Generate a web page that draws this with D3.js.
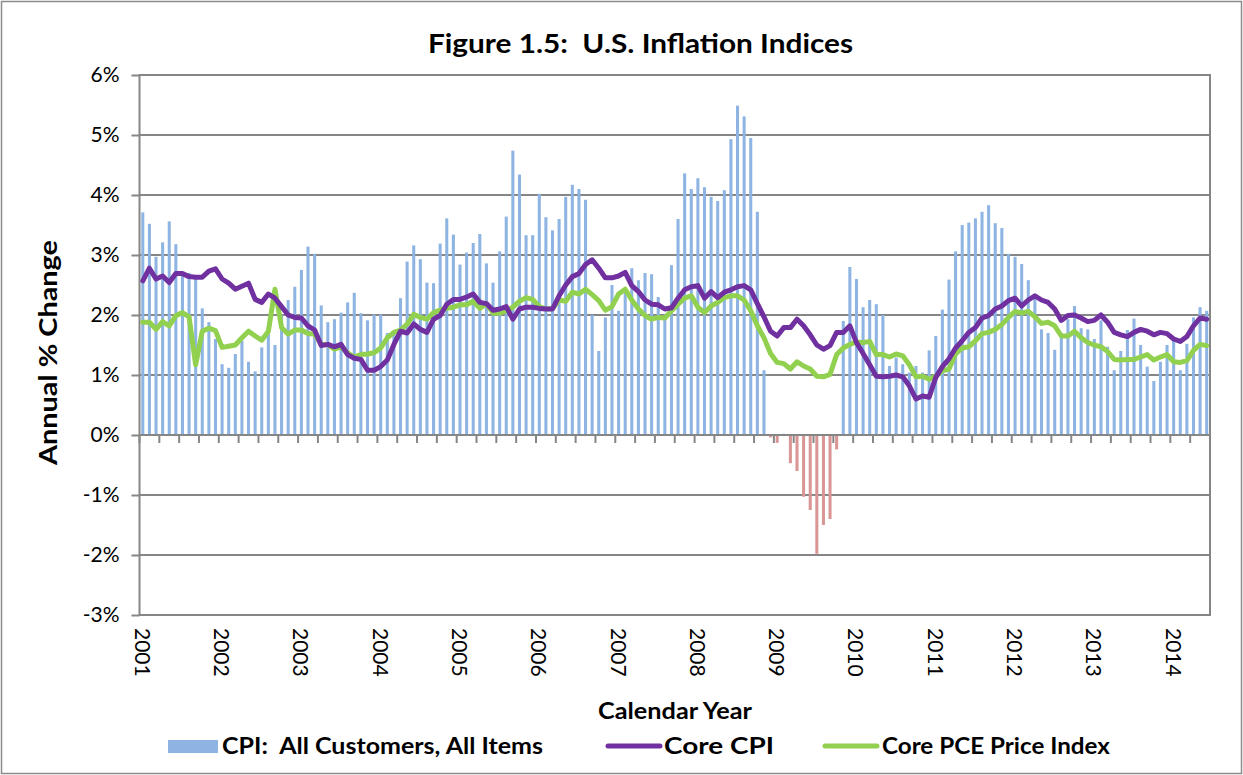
<!DOCTYPE html>
<html>
<head>
<meta charset="utf-8">
<script src="https://cdn.jsdelivr.net/npm/d3@7"></script>
<style>
  html, body { margin: 0; padding: 0; background: #fff; }
  svg { display: block; }
  text { font-family: Lato, "Open Sans", "Liberation Sans", sans-serif; fill: #000; white-space: pre; }
</style>
</head>
<body>
<svg id="chart" width="1243" height="775" xml:space="preserve"></svg>
<script>
// ---------------- DATA (monthly, Jan 2001 - Jun 2014) ----------------
const years = ["2001","2002","2003","2004","2005","2006","2007","2008","2009","2010","2011","2012","2013","2014"];
const monthNames = ["Jan","Feb","Mar","Apr","May","Jun","Jul","Aug","Sep","Oct","Nov","Dec"];
const monthCount = 162;

const cpiAllItems = [
  3.71, 3.52, 2.97, 3.21, 3.56, 3.18, 2.68, 2.70, 2.60, 2.11, 1.88, 1.60,
  1.18, 1.12, 1.35, 1.57, 1.22, 1.06, 1.46, 1.80, 1.50, 2.00, 2.25, 2.47,
  2.75, 3.14, 3.02, 2.16, 1.88, 1.93, 2.04, 2.21, 2.37, 2.03, 1.91, 2.01,
  2.01, 1.70, 1.70, 2.28, 2.89, 3.16, 2.93, 2.54, 2.53, 3.19, 3.61, 3.34,
  2.84, 3.04, 3.20, 3.35, 2.86, 2.54, 3.06, 3.64, 4.74, 4.34, 3.33, 3.33,
  4.02, 3.63, 3.41, 3.60, 3.97, 4.17, 4.10, 3.92, 2.00, 1.40, 1.96, 2.50,
  2.07, 2.40, 2.78, 2.58, 2.70, 2.68, 2.30, 1.97, 2.83, 3.60, 4.36, 4.10,
  4.28, 4.13, 3.97, 3.90, 4.08, 4.93, 5.49, 5.31, 4.95, 3.72, 1.08, -0.04,
  -0.13, 0.02, -0.47, -0.60, -1.03, -1.25, -1.98, -1.50, -1.40, -0.24, 1.90, 2.80,
  2.60, 2.13, 2.25, 2.18, 2.00, 1.15, 1.29, 1.18, 1.04, 1.15, 1.04, 1.41,
  1.65, 2.09, 2.59, 3.06, 3.50, 3.54, 3.61, 3.72, 3.83, 3.53, 3.45, 3.02,
  2.97, 2.85, 2.58, 2.30, 1.76, 1.70, 1.42, 1.70, 1.93, 2.15, 1.78, 1.76,
  1.60, 1.91, 1.47, 1.08, 1.40, 1.75, 1.94, 1.50, 1.14, 0.90, 1.22, 1.50,
  1.58, 1.08, 1.52, 1.96, 2.13, 2.07
];

const coreCPI = [
  2.57, 2.78, 2.60, 2.65, 2.54, 2.69, 2.69, 2.64, 2.63, 2.63, 2.73, 2.77,
  2.60, 2.53, 2.43, 2.48, 2.53, 2.26, 2.21, 2.35, 2.28, 2.14, 2.00, 1.96,
  1.95, 1.82, 1.75, 1.49, 1.51, 1.47, 1.51, 1.34, 1.28, 1.26, 1.08, 1.08,
  1.14, 1.25, 1.51, 1.73, 1.70, 1.85, 1.76, 1.71, 1.93, 1.99, 2.18, 2.26,
  2.26, 2.30, 2.35, 2.21, 2.19, 2.08, 2.10, 2.14, 1.93, 2.10, 2.13, 2.13,
  2.11, 2.10, 2.10, 2.32, 2.50, 2.64, 2.69, 2.84, 2.92, 2.78, 2.62, 2.62,
  2.65, 2.71, 2.49, 2.39, 2.25, 2.18, 2.17, 2.10, 2.12, 2.28, 2.42, 2.47,
  2.49, 2.28, 2.39, 2.29, 2.38, 2.42, 2.47, 2.49, 2.42, 2.19, 1.97, 1.73,
  1.65, 1.79, 1.79, 1.93, 1.82, 1.67, 1.50, 1.43, 1.49, 1.71, 1.71, 1.82,
  1.54, 1.36, 1.17, 0.98, 0.97, 0.98, 1.00, 0.97, 0.82, 0.60, 0.65, 0.63,
  0.96, 1.14, 1.27, 1.45, 1.57, 1.71, 1.79, 1.95, 1.99, 2.10, 2.15, 2.24,
  2.28, 2.15, 2.25, 2.32, 2.25, 2.21, 2.10, 1.91, 1.99, 2.00, 1.95, 1.89,
  1.91, 2.00, 1.88, 1.71, 1.67, 1.64, 1.71, 1.76, 1.73, 1.67, 1.71, 1.69,
  1.60, 1.56, 1.64, 1.82, 1.95, 1.93
];

const corePCE = [
  1.88, 1.88, 1.76, 1.89, 1.82, 1.99, 2.04, 1.97, 1.17, 1.73, 1.78, 1.74,
  1.46, 1.48, 1.50, 1.62, 1.73, 1.65, 1.58, 1.73, 2.43, 1.79, 1.68, 1.75,
  1.75, 1.69, 1.68, 1.51, 1.51, 1.43, 1.47, 1.37, 1.30, 1.34, 1.35, 1.37,
  1.45, 1.62, 1.71, 1.75, 1.85, 2.01, 1.96, 1.93, 2.04, 2.08, 2.11, 2.13,
  2.17, 2.17, 2.23, 2.11, 2.19, 2.03, 2.03, 2.07, 2.13, 2.23, 2.29, 2.26,
  2.14, 2.10, 2.11, 2.25, 2.23, 2.38, 2.35, 2.43, 2.34, 2.24, 2.08, 2.14,
  2.35, 2.43, 2.25, 2.10, 1.99, 1.93, 1.96, 1.95, 2.07, 2.18, 2.28, 2.32,
  2.13, 2.04, 2.15, 2.21, 2.29, 2.32, 2.32, 2.25, 2.07, 1.82, 1.62, 1.36,
  1.21, 1.19, 1.10, 1.22, 1.15, 1.10, 0.98, 0.97, 1.01, 1.34, 1.45, 1.51,
  1.55, 1.54, 1.56, 1.34, 1.34, 1.30, 1.35, 1.32, 1.17, 0.97, 0.98, 0.93,
  0.98, 1.07, 1.10, 1.35, 1.45, 1.47, 1.57, 1.69, 1.71, 1.76, 1.84, 1.96,
  2.06, 2.03, 2.06, 1.97, 1.86, 1.88, 1.82, 1.65, 1.65, 1.73, 1.62, 1.54,
  1.50, 1.47, 1.39, 1.26, 1.25, 1.26, 1.26, 1.30, 1.34, 1.25, 1.30, 1.34,
  1.22, 1.21, 1.24, 1.41, 1.51, 1.49
];

const yTicks = [-3, -2, -1, 0, 1, 2, 3, 4, 5, 6];
const titleText = "Figure 1.5:  U.S. Inflation Indices";
const yAxisTitle = "Annual % Change";
const xAxisTitle = "Calendar Year";
const legendLabels = ["CPI:  All Customers, All Items", "Core CPI", "Core PCE Price Index"];

// ---------------- BUILD ----------------
const categories = d3.range(monthCount).map(i => monthNames[i % 12] + " " + years[Math.floor(i / 12)]);

const colors = { bar: "#8DB4E2", barNeg: "#D99694", core: "#7030A0", pce: "#92D050", grid: "#868686" };

const svg = d3.select("#chart");
const W = 1243, H = 775;
const plot = { left: 139.5, right: 1210, top: 75, bottom: 615 };

svg.append("rect").attr("x", 0).attr("y", 0).attr("width", W).attr("height", H).attr("fill", "#fff");
svg.append("rect").attr("x", 1.5).attr("y", 1.5).attr("width", W - 3).attr("height", H - 3)
  .attr("fill", "none").attr("stroke", "#8c8c8c").attr("stroke-width", 1.5);

const x = d3.scaleBand().domain(categories).range([plot.left, plot.right]).padding(0);
const y = d3.scaleLinear().domain([-3, 6]).range([plot.bottom, plot.top]);
const cx = i => x(categories[i]) + x.bandwidth() / 2;

// gridlines + y axis
const yAxis = d3.axisLeft(y).tickValues(yTicks).tickFormat(d => d + "%").tickSize(8).tickPadding(12);
const gy = svg.append("g").attr("transform", `translate(${plot.left},0)`).call(yAxis);
gy.select(".domain").remove();
gy.selectAll(".tick line").attr("stroke", colors.grid).attr("stroke-width", 2);
gy.selectAll(".tick text").attr("font-size", 21).attr("font-family", "Lato, sans-serif").attr("fill", "#000");

svg.append("g").selectAll("line").data(yTicks).join("line")
  .attr("x1", plot.left).attr("x2", plot.right)
  .attr("y1", d => y(d)).attr("y2", d => y(d))
  .attr("stroke", colors.grid).attr("stroke-width", 2);

// plot border
svg.append("rect").attr("x", plot.left).attr("y", plot.top)
  .attr("width", plot.right - plot.left).attr("height", plot.bottom - plot.top)
  .attr("fill", "none").attr("stroke", colors.grid).attr("stroke-width", 2);

// bars
const barW = x.bandwidth() * 0.46;
svg.append("g").selectAll("rect").data(cpiAllItems).join("rect")
  .attr("x", (d, i) => cx(i) - barW / 2)
  .attr("width", barW)
  .attr("y", d => d >= 0 ? y(d) : y(0))
  .attr("height", d => Math.abs(y(d) - y(0)))
  .attr("fill", d => d >= 0 ? colors.bar : colors.barNeg);

// category axis at zero with quarterly ticks
const quarterIdx = d3.range(0, monthCount + 1, 3);
const xAt = i => i < monthCount ? x(categories[i]) : plot.right;
svg.append("line").attr("x1", plot.left).attr("x2", plot.right)
  .attr("y1", y(0)).attr("y2", y(0)).attr("stroke", colors.grid).attr("stroke-width", 2);
svg.append("g").selectAll("line").data(quarterIdx).join("line")
  .attr("x1", d => xAt(d)).attr("x2", d => xAt(d))
  .attr("y1", y(0)).attr("y2", y(0) + 8)
  .attr("stroke", colors.grid).attr("stroke-width", 2);

// lines
const lineGen = d3.line().x((d, i) => cx(i)).y(d => y(d)).curve(d3.curveLinear);
svg.append("path").datum(corePCE).attr("d", lineGen)
  .attr("fill", "none").attr("stroke", colors.pce).attr("stroke-width", 5)
  .attr("stroke-linejoin", "round").attr("stroke-linecap", "round");
svg.append("path").datum(coreCPI).attr("d", lineGen)
  .attr("fill", "none").attr("stroke", colors.core).attr("stroke-width", 5)
  .attr("stroke-linejoin", "round").attr("stroke-linecap", "round");

// year labels (rotated)
svg.append("g").selectAll("text").data(years).join("text")
  .attr("transform", (d, k) => `translate(${cx(k * 12) - 8},${plot.bottom + 13}) rotate(90)`)
  .attr("font-size", 21)
  .attr("text-anchor", "start")
  .text(d => d);

// titles
svg.append("text").attr("x", 428).attr("y", 53)
  .attr("font-size", 27).attr("font-weight", "bold")
  .attr("textLength", 425).attr("lengthAdjust", "spacingAndGlyphs").text(titleText);
svg.append("text").attr("transform", `translate(57,465) rotate(-90)`)
  .attr("font-family", "'Liberation Sans', Arial, sans-serif")
  .attr("font-size", 25).attr("font-weight", "bold")
  .attr("textLength", 225).attr("lengthAdjust", "spacingAndGlyphs").text(yAxisTitle);
svg.append("text").attr("x", 598).attr("y", 719)
  .attr("font-size", 22).attr("font-weight", "bold")
  .attr("textLength", 154).attr("lengthAdjust", "spacingAndGlyphs").text(xAxisTitle);

// legend
const leg = svg.append("g");
const legendItems = [
  { kind: "rect", color: colors.bar, x0: 168, tx: 222, tw: 321 },
  { kind: "line", color: colors.core, x0: 608, tx: 664, tw: 110 },
  { kind: "line", color: colors.pce, x0: 825, tx: 882, tw: 228 }
];
legendItems.forEach((it, k) => {
  if (it.kind === "rect") {
    leg.append("rect").attr("x", it.x0).attr("y", 740).attr("width", 50).attr("height", 13).attr("fill", it.color);
  } else {
    leg.append("line").attr("x1", it.x0).attr("x2", it.x0 + 52).attr("y1", 746).attr("y2", 746)
      .attr("stroke", it.color).attr("stroke-width", 5).attr("stroke-linecap", "round");
  }
  leg.append("text").attr("x", it.tx).attr("y", 754).attr("font-size", 22).attr("font-weight", "bold")
    .attr("textLength", it.tw).attr("lengthAdjust", "spacingAndGlyphs").text(legendLabels[k]);
});
</script>
</body>
</html>
